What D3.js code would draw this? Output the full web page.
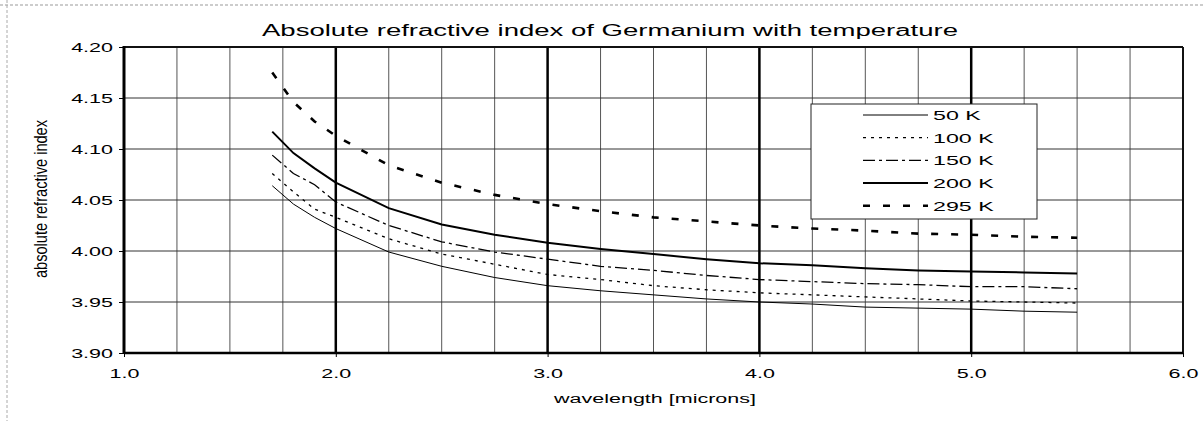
<!DOCTYPE html>
<html>
<head>
<meta charset="utf-8">
<script src="https://cdn.jsdelivr.net/npm/d3@7"></script>
<style>
  body { margin: 0; background: #fff; }
  svg { display: block; font-family: "Liberation Sans", Arial, sans-serif; }
</style>
</head>
<body>
<div id="chart"></div>
<script>
// data
var wavelengths = [1.7, 1.8, 1.9, 2.0, 2.25, 2.5, 2.75, 3.0, 3.25, 3.5, 3.75, 4.0, 4.25, 4.5, 4.75, 5.0, 5.25, 5.5];
var n50  = [4.064, 4.046, 4.033, 4.022, 3.999, 3.985, 3.974, 3.966, 3.961, 3.957, 3.953, 3.950, 3.948, 3.945, 3.944, 3.943, 3.941, 3.940];
var n100 = [4.076, 4.058, 4.041, 4.033, 4.012, 3.997, 3.987, 3.977, 3.972, 3.966, 3.962, 3.959, 3.957, 3.955, 3.953, 3.951, 3.950, 3.949];
var n150 = [4.094, 4.076, 4.065, 4.048, 4.025, 4.009, 3.999, 3.992, 3.985, 3.981, 3.976, 3.972, 3.970, 3.968, 3.967, 3.965, 3.965, 3.963];
var n200 = [4.117, 4.096, 4.081, 4.067, 4.042, 4.026, 4.016, 4.008, 4.002, 3.997, 3.992, 3.988, 3.986, 3.983, 3.981, 3.980, 3.979, 3.978];
var n295 = [4.175, 4.146, 4.127, 4.113, 4.084, 4.067, 4.055, 4.046, 4.039, 4.033, 4.029, 4.025, 4.022, 4.020, 4.017, 4.016, 4.014, 4.013];
var seriesNames = ["50 K", "100 K", "150 K", "200 K", "295 K"];
var xTicks = [1, 2, 3, 4, 5, 6];
var yTicks = [3.90, 3.95, 4.00, 4.05, 4.10, 4.15, 4.20];

var W = 1203, H = 421;
var margin = {top: 47, right: 20, bottom: 68, left: 124},
    width = 1183 - margin.left,
    height = 353 - margin.top;

// the scanned chart was stretched sideways, text too
var STRETCH = 1.72;
function stretch(sel, k) {
  sel.each(function() {
    var len = this.getComputedTextLength();
    d3.select(this).attr("textLength", len * k).attr("lengthAdjust", "spacingAndGlyphs");
  });
}

var svg = d3.select("#chart").append("svg")
    .attr("width", W).attr("height", H);

// faint scan frame
svg.append("line").attr("x1", 0).attr("x2", W).attr("y1", 5).attr("y2", 5)
  .style("stroke", "#999").style("stroke-dasharray", "3,2");
svg.append("line").attr("x1", 7).attr("x2", 7).attr("y1", 0).attr("y2", H)
  .style("stroke", "#aaa").style("stroke-dasharray", "3,2");

var g = svg.append("g").attr("transform", "translate(" + margin.left + "," + margin.top + ")");

var x = d3.scaleLinear().domain([1, 6]).range([0, width]);
var y = d3.scaleLinear().domain([3.9, 4.2]).range([height, 0]);

// minor vertical grid every 0.25
var minor = d3.range(1.25, 6, 0.25).filter(function(d) { return Math.abs(d - Math.round(d)) > 0.01; });
g.selectAll(".vminor").data(minor).enter().append("line")
  .attr("x1", function(d) { return x(d); }).attr("x2", function(d) { return x(d); })
  .attr("y1", 0).attr("y2", height)
  .style("stroke", "#555").style("stroke-width", 1);

// horizontal grid
g.selectAll(".hgrid").data(yTicks.slice(1, -1)).enter().append("line")
  .attr("x1", 0).attr("x2", width)
  .attr("y1", function(d) { return y(d); }).attr("y2", function(d) { return y(d); })
  .style("stroke", "#333").style("stroke-width", 1);

// major vertical grid at whole microns
g.selectAll(".vmajor").data(xTicks.slice(1, -1)).enter().append("line")
  .attr("x1", function(d) { return x(d); }).attr("x2", function(d) { return x(d); })
  .attr("y1", 0).attr("y2", height)
  .style("stroke", "#000").style("stroke-width", 2.5);

// frame
g.append("line").attr("x1", 0).attr("x2", width).attr("y1", 0).attr("y2", 0)
  .style("stroke", "#111").style("stroke-width", 2);
g.append("line").attr("x1", width).attr("x2", width).attr("y1", 0).attr("y2", height)
  .style("stroke", "#111").style("stroke-width", 2);

// axes
var yAxis = g.append("g")
  .call(d3.axisLeft(y).tickValues(yTicks).tickSize(5).tickPadding(6).tickFormat(d3.format(".2f")));
var xAxis = g.append("g").attr("transform", "translate(0," + height + ")")
  .call(d3.axisBottom(x).tickValues(xTicks).tickSize(4).tickPadding(12).tickFormat(d3.format(".1f")));
[yAxis, xAxis].forEach(function(a) {
  a.select(".domain").remove();
  a.selectAll(".tick line").style("stroke", "#000");
  a.selectAll(".tick text").style("font-size", "12.5px").style("fill", "#000")
    .style("font-family", "'Liberation Sans', Arial, sans-serif");
});
g.append("line").attr("x1", 0).attr("x2", 0).attr("y1", -1).attr("y2", height + 1)
  .style("stroke", "#000").style("stroke-width", 3);
g.append("line").attr("x1", 0).attr("x2", width).attr("y1", height).attr("y2", height)
  .style("stroke", "#000").style("stroke-width", 2.5);
stretch(yAxis.selectAll(".tick text"), STRETCH);
stretch(xAxis.selectAll(".tick text"), STRETCH);

// series
var series = [
  {name: seriesNames[0], values: n50,  width: 1,   dash: null},
  {name: seriesNames[1], values: n100, width: 1.3, dash: "3,5"},
  {name: seriesNames[2], values: n150, width: 1.3, dash: "12,4,3,4"},
  {name: seriesNames[3], values: n200, width: 2,   dash: null},
  {name: seriesNames[4], values: n295, width: 2.6, dash: "7,13"}
];
var line = d3.line()
  .x(function(d, i) { return x(wavelengths[i]); })
  .y(function(d) { return y(d); });
g.selectAll(".series").data(series).enter().append("path")
  .attr("d", function(s) { return line(s.values); })
  .style("fill", "none").style("stroke", "#000")
  .style("stroke-width", function(s) { return s.width; })
  .style("stroke-dasharray", function(s) { return s.dash; });

// legend
var leg = svg.append("g").attr("transform", "translate(811,104)");
leg.append("rect").attr("width", 226).attr("height", 115)
  .style("fill", "#fff").style("stroke", "#222").style("stroke-width", 1);
var rows = leg.selectAll(".row").data(series).enter().append("g")
  .attr("transform", function(s, i) { return "translate(0," + (11 + i * 22.7) + ")"; });
rows.append("line").attr("x1", 52).attr("x2", 117).attr("y1", 0).attr("y2", 0)
  .style("stroke", "#000")
  .style("stroke-width", function(s) { return s.width; })
  .style("stroke-dasharray", function(s) { return s.dash; });
var legText = rows.append("text").attr("x", 122).attr("dy", "0.36em")
  .style("font-size", "13.5px").text(function(s) { return s.name; });
stretch(legText, STRETCH);

// titles
var title = svg.append("text").attr("x", 610).attr("y", 36).attr("text-anchor", "middle")
  .style("font-size", "16px").text("Absolute refractive index of Germanium with temperature");
stretch(title, STRETCH);

var xl = svg.append("text").attr("x", 655).attr("y", 403).attr("text-anchor", "middle")
  .style("font-size", "12.5px").text("wavelength [microns]");
stretch(xl, STRETCH);

svg.append("g").attr("transform", "translate(47,199) scale(1.35,1) rotate(-90)")
  .append("text").attr("text-anchor", "middle")
  .style("font-size", "13.5px")
  .attr("textLength", 158).attr("lengthAdjust", "spacingAndGlyphs")
  .text("absolute refractive index");
</script>
</body>
</html>
